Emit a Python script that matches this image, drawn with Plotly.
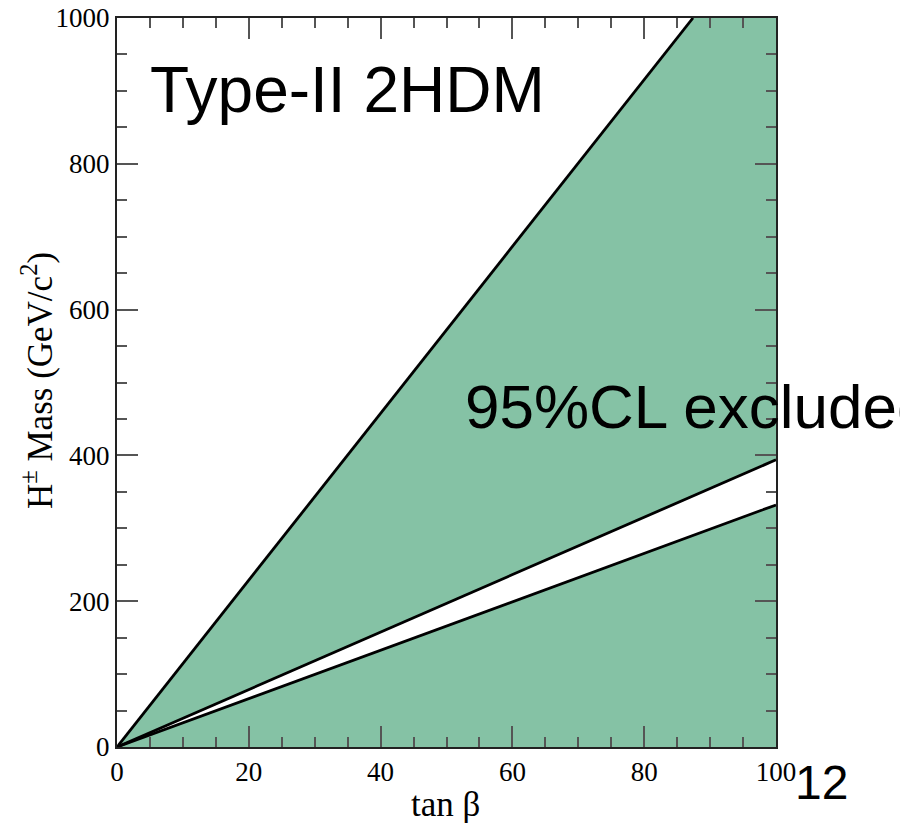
import plotly.graph_objects as go

# Axis extents
tb_range = [0, 100]
mass_range = [0, 1000]

# Exclusion boundaries (tan beta, charged Higgs mass in GeV/c^2)
steep_tb = [0, 87.4]
steep_m = [0, 1000]
band_hi_tb = [0, 100]
band_hi_m = [0, 394]
band_lo_tb = [0, 100]
band_lo_m = [0, 332]

x_ticks = [0, 20, 40, 60, 80, 100]
y_ticks = [0, 200, 400, 600, 800, 1000]

GREEN = "#85C2A5"

fig = go.Figure()

# Excluded region between the steep boundary and the upper edge of the allowed band
region1_x = steep_tb + [tb_range[1], tb_range[1]] + band_hi_tb[::-1]
region1_y = steep_m + [mass_range[1], band_hi_m[-1]] + band_hi_m[::-1]
fig.add_trace(go.Scatter(x=region1_x, y=region1_y, fill="toself", fillcolor=GREEN,
                         line=dict(width=0), mode="lines", hoverinfo="skip", showlegend=False))

# Excluded region below the lower edge of the allowed band
region2_x = band_lo_tb + [tb_range[1], tb_range[0]]
region2_y = band_lo_m + [mass_range[0], mass_range[0]]
fig.add_trace(go.Scatter(x=region2_x, y=region2_y, fill="toself", fillcolor=GREEN,
                         line=dict(width=0), mode="lines", hoverinfo="skip", showlegend=False))

# Boundary lines
for bx, by in [(steep_tb, steep_m), (band_hi_tb, band_hi_m), (band_lo_tb, band_lo_m)]:
    fig.add_trace(go.Scatter(x=bx, y=by, mode="lines", line=dict(color="black", width=2.8),
                             hoverinfo="skip", showlegend=False))

axis_common = dict(
    showgrid=False, zeroline=False, showline=True, linecolor="#222", linewidth=2,
    mirror="ticks", ticks="inside", ticklen=21, tickwidth=1.5, tickcolor="#555",
    layer="above traces", automargin=False,
    tickfont=dict(family="Liberation Serif", size=27, color="black"),
)

fig.update_xaxes(range=tb_range, tickvals=x_ticks, ticktext=[str(v) for v in x_ticks],
                 minor=dict(ticks="inside", ticklen=10, dtick=5, tickwidth=1.5, tickcolor="#555"),
                 **axis_common)
fig.update_yaxes(range=mass_range, tickvals=y_ticks, ticktext=[str(v) for v in y_ticks],
                 minor=dict(ticks="inside", ticklen=10, dtick=50, tickwidth=1.5, tickcolor="#555"),
                 **axis_common)

L, R, T, B = 117, 124, 18, 76
W, H = 900, 823
pw, ph = W - L - R, H - T - B


def px(xp):
    return (xp - L) / pw


def py(yp):
    return (H - B - yp) / ph


ann = [
    dict(text="Type-II 2HDM", x=px(148), y=py(90), xanchor="left", yanchor="middle",
         font=dict(family="Liberation Sans", size=64, color="black")),
    dict(text="95%CL excluded", x=px(463), y=py(406), xanchor="left", yanchor="middle",
         font=dict(family="Liberation Sans", size=62, color="black")),
    dict(text="12", x=px(793), y=py(782), xanchor="left", yanchor="middle",
         font=dict(family="Liberation Sans", size=48, color="black")),
    dict(text="tan β", x=px(445), y=py(804), xanchor="center", yanchor="middle",
         font=dict(family="Liberation Serif", size=35, color="black")),
    dict(text="H<sup>±</sup> Mass (GeV/c<sup>2</sup>)", x=px(38), y=py(381),
         xanchor="center", yanchor="middle", textangle=-90,
         font=dict(family="Liberation Serif", size=35, color="black")),
]
for a in ann:
    a.update(xref="paper", yref="paper", showarrow=False)

fig.update_layout(
    width=W, height=H, margin=dict(l=L, r=R, t=T, b=B, autoexpand=False),
    plot_bgcolor="white", paper_bgcolor="white",
    annotations=ann, showlegend=False,
)

fig.write_html("out.html")
